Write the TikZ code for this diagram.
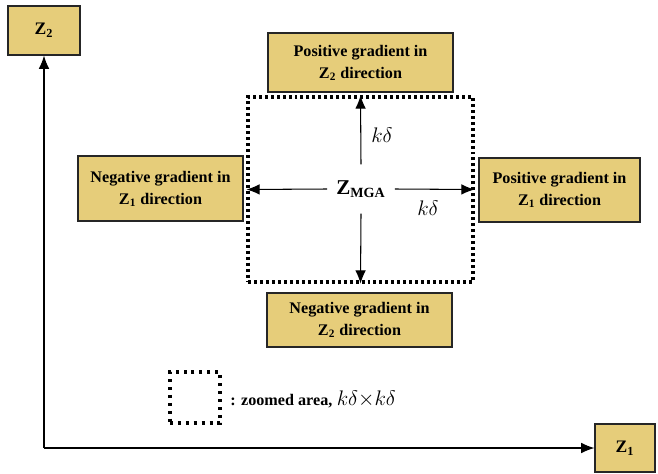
\documentclass[tikz,border=0pt]{standalone}
\usepackage{fontspec}
\setmainfont{Liberation Serif}
\usetikzlibrary{arrows.meta}
\definecolor{boxfill}{RGB}{230,205,122}
\begin{document}
\begin{tikzpicture}[x=0.02cm,y=-0.02cm,
  gbox/.style={draw=black!85,line width=0.7pt,fill=boxfill,align=center,inner sep=2pt,
    font=\fontsize{9.2}{12.5}\selectfont\bfseries},
  arr/.style={line width=0.6pt,-{Latex[length=7.5pt,width=6pt]}},
  dotsq/.style={draw,line width=1.8pt,dash pattern=on 1.7pt off 1.7pt},
  lbl/.style={font=\fontsize{12}{14}\selectfont}]
\useasboundingbox (0,0) rectangle (658,473);
% zoomed area
\node[dotsq,minimum width=4.5cm,minimum height=3.7cm,inner sep=0pt] (sq) at (360.5,189.5) {};
% gradient boxes
\node[gbox,minimum width=3.7cm,minimum height=1.18cm] (top) at (360.5,62.5) {Positive gradient in\\Z\textsubscript{2} direction};
\node[gbox,minimum width=3.3cm,minimum height=1.3cm] (left) at (160.5,188.5) {Negative gradient in\\Z\textsubscript{1} direction};
\node[gbox,minimum width=3.22cm,minimum height=1.28cm] (right) at (559.5,190) {Positive gradient in\\Z\textsubscript{1} direction};
\node[gbox,minimum width=3.7cm,minimum height=1.08cm] (bottom) at (359.5,320) {Negative gradient in\\Z\textsubscript{2} direction};
% axes boxes
\node[gbox,minimum width=1.44cm,minimum height=0.98cm,font=\fontsize{10}{12}\selectfont\bfseries] (z2) at (44,30.5) {Z\textsubscript{2}};
\node[gbox,minimum width=1.2cm,minimum height=0.96cm,font=\fontsize{10}{12}\selectfont\bfseries] (z1) at (625,448) {Z\textsubscript{1}};
\coordinate (o) at (44,448);
\draw[arr] (o) -- (z2.south);
\draw[arr] (o) -- (z1.west);
% centre
\node[inner xsep=5pt,inner ysep=9pt,font=\fontsize{12}{14}\selectfont\bfseries] (mga) at (361,189) {Z\textsubscript{\fontsize{8}{9}\selectfont MGA}};
\draw[arr] (mga.west) -- (sq.west);
\draw[arr] (mga.east) -- (sq.east);
\draw[arr] (mga.north) -- (sq.north);
\draw[arr] (mga.south) -- (sq.south);
\node[lbl] (k1) at (382,135) {$k\delta$};
\node[lbl] (k2) at (428,208) {$k\delta$};
% legend
\node[draw,line width=1.8pt,dash pattern=on 1.7pt off 2.8pt,minimum width=1cm,minimum height=1.02cm,inner sep=0pt] (leg) at (195,397.5) {};
\node[anchor=west,inner sep=0pt] (legtxt) at (230,399) {{\fontsize{9.2}{10}\selectfont\bfseries : zoomed area,}\ {\fontsize{12}{14}\selectfont$k\delta{\times}k\delta$}};
\end{tikzpicture}
\end{document}
